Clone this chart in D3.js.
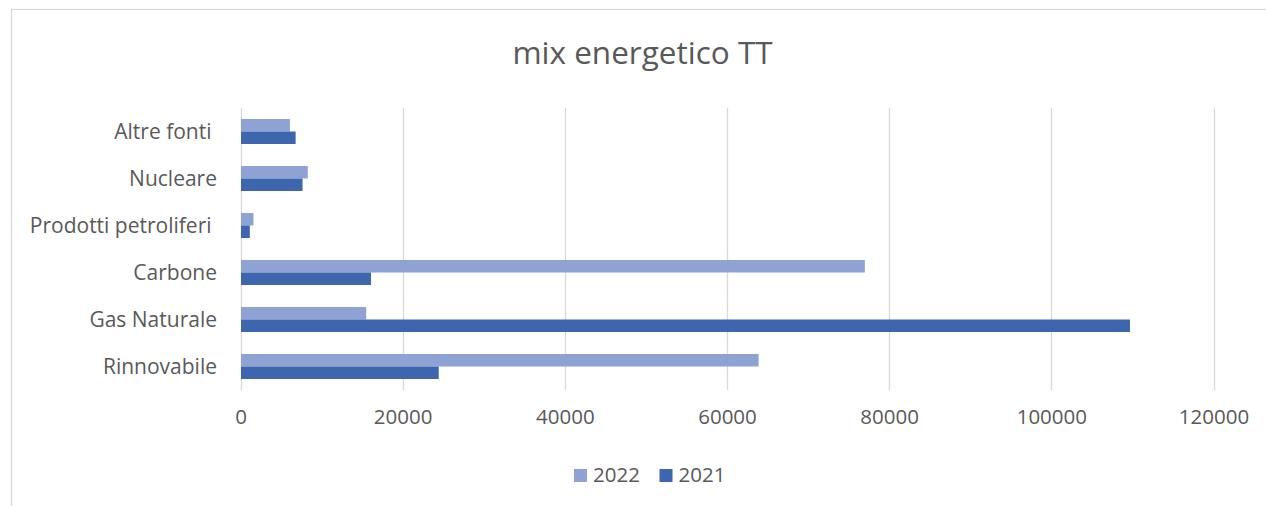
<!DOCTYPE html>
<html><head><meta charset="utf-8">
<script src="https://cdn.jsdelivr.net/npm/d3@7"></script>
<style>
html,body{margin:0;padding:0;background:#fff;}
svg{display:block;font-family:"Open Sans",sans-serif;}
text{fill:#595959;white-space:pre;}
</style></head>
<body>
<svg id="chart" width="1266" height="506"></svg>
<script>
const categories = ["Altre fonti ", "Nucleare", "Prodotti petroliferi ", "Carbone", "Gas Naturale", "Rinnovabile"];
const seriesNames = ["2022", "2021"];
const values2022 = [6100, 8300, 1600, 77000, 15500, 63900];
const values2021 = [6800, 7650, 1150, 16100, 109700, 24450];
const tickValues = [0, 20000, 40000, 60000, 80000, 100000, 120000];
const title = "mix energetico TT";
const colors = {"2022": "#8FA2D4", "2021": "#3D66AE"};

const seriesValues = {"2022": values2022, "2021": values2021};
const svg = d3.select("#chart");

// outer border
svg.append("rect").attr("x", 11.5).attr("y", 9.5).attr("width", 1300).attr("height", 600)
  .attr("fill", "none").attr("stroke", "#D9D9D9").attr("stroke-width", 1.3);

const x = d3.scaleLinear().domain([0, 120000]).range([240.5, 1213.5]);
const y = d3.scaleBand().domain(categories).range([108, 390]).paddingInner(0.468).paddingOuter(0.234);
const ys = d3.scaleBand().domain(seriesNames).range([0, y.bandwidth()]);

// gridlines
svg.append("g").selectAll("line").data(tickValues).join("line")
  .attr("x1", d => Math.round(x(d)) + 0.5).attr("x2", d => Math.round(x(d)) + 0.5)
  .attr("y1", 108).attr("y2", 390)
  .attr("stroke", "#D9D9D9").attr("stroke-width", 1.3);

// bars
const data = [];
categories.forEach((c, i) => seriesNames.forEach(s => data.push({c, s, v: seriesValues[s][i]})));
svg.append("g").selectAll("rect").data(data).join("rect")
  .attr("x", x(0) + 0.5)
  .attr("y", d => y(d.c) + ys(d.s))
  .attr("width", d => x(d.v) - x(0) - 0.5)
  .attr("height", ys.bandwidth())
  .attr("fill", d => colors[d.s]);

// x axis labels
const xAxis = d3.axisBottom(x).tickValues(tickValues).tickSize(0).tickPadding(0).tickFormat(d3.format("d"));
const gx = svg.append("g").attr("transform", "translate(0,409)").call(xAxis);
gx.select(".domain").remove();
gx.selectAll("text").attr("font-size", "20.5px").attr("font-family", "Open Sans").attr("fill", "#595959").attr("dy", "0.71em");

// y axis labels
const yAxis = d3.axisLeft(y).tickSize(0).tickPadding(0);
const gy = svg.append("g").attr("transform", "translate(217,0)").call(yAxis);
gy.select(".domain").remove();
gy.selectAll("text").attr("font-size", "21px").attr("font-family", "Open Sans").attr("fill", "#595959").attr("dy", "0.36em");

// title
svg.append("text").attr("x", 642.5).attr("y", 63.5).attr("text-anchor", "middle")
  .attr("font-size", "31.5px").text(title);

// legend
const legendX = [574, 659.5];
const lg = svg.append("g").selectAll("g").data(seriesNames).join("g")
  .attr("transform", (d, i) => `translate(${legendX[i]},469)`);
lg.append("rect").attr("width", 13).attr("height", 13).attr("fill", d => colors[d]);
lg.append("text").attr("x", 19).attr("y", 12.7).attr("font-size", "20.5px").text(d => d);
</script>
</body></html>
